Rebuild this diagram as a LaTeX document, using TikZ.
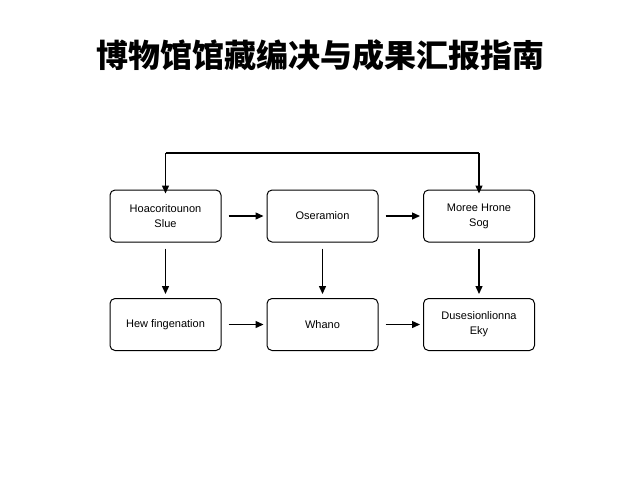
\documentclass[tikz,border=0pt]{standalone}
\usepackage{fontspec}
\setmainfont{Liberation Sans}
\newfontfamily\cjk{Noto Sans CJK SC}
\usetikzlibrary{arrows.meta}
\begin{document}
\begin{tikzpicture}[x=1pt,y=-1pt,
  box/.style={draw,line width=1pt,rounded corners=5pt,minimum width=111pt,minimum height=52pt,align=center,font=\fontsize{11}{15}\selectfont,inner sep=2pt},
  arr/.style={line width=1.4pt,-{Triangle[length=8pt,width=7pt]}}]
\useasboundingbox (0,0) rectangle (640,480);
\node[font=\cjk\bfseries\fontsize{32}{36}\selectfont] (title) at (320,55) {博物馆馆藏编决与成果汇报指南};
\node[box] (a) at (165.5,216) {Hoacoritounon\\Slue};
\node[box] (b) at (322.5,216) {Oseramion};
\node[box] (c) at (479,216) {Moree Hrone\\Sog};
\node[box] (d) at (165.5,324.5) {Hew fingenation};
\node[box] (e) at (322.5,324.5) {Whano};
\node[box] (f) at (479,324.5) {Dusesionlionna\\Eky};
\coordinate (tl) at (165.5,153);
\coordinate (tr) at (479,153);
\draw[arr] ([xshift=7pt]a.east) -- ([xshift=-3pt]b.west);
\draw[arr] ([xshift=7pt]b.east) -- ([xshift=-3pt]c.west);
\draw[arr] ([xshift=7pt]d.east) -- ([xshift=-3pt]e.west);
\draw[arr] ([xshift=7pt]e.east) -- ([xshift=-3pt]f.west);
\draw[arr] ([yshift=-6pt]a.south) -- ([yshift=4pt]d.north);
\draw[arr] ([yshift=-6pt]b.south) -- ([yshift=4pt]e.north);
\draw[arr] ([yshift=-6pt]c.south) -- ([yshift=4pt]f.north);
\draw[line width=1.4pt] (tl) -- (tr);
\draw[arr] (tl) -- ([yshift=-4pt]a.north);
\draw[arr] (tr) -- ([yshift=-4pt]c.north);
\end{tikzpicture}
\end{document}
